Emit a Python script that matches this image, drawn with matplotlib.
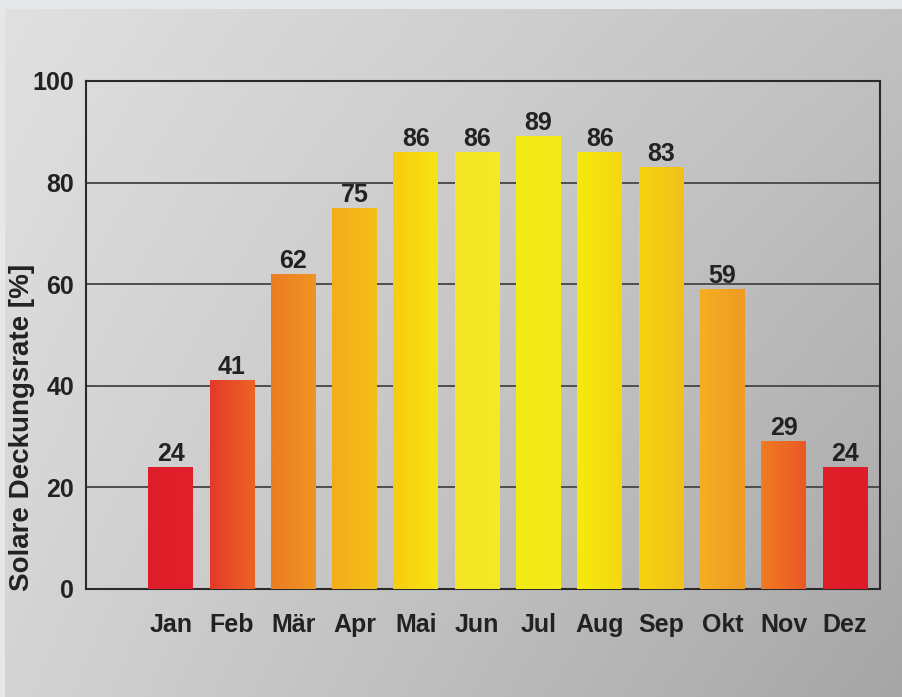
import matplotlib

matplotlib.use("Agg")
import matplotlib.pyplot as plt  # noqa: E402
import numpy as np  # noqa: E402
from matplotlib.colors import to_rgb  # noqa: E402

plt.rcParams["font.family"] = ["Liberation Sans", "DejaVu Sans"]
plt.rcParams["font.weight"] = "bold"

# ---- data ----
months = ["Jan", "Feb", "Mär", "Apr", "Mai", "Jun", "Jul", "Aug", "Sep", "Okt", "Nov", "Dez"]
coverage = [24, 41, 62, 75, 86, 86, 89, 86, 83, 59, 29, 24]
y_ticks = [0, 20, 40, 60, 80, 100]
y_label = "Solare Deckungsrate [%]"

# bar fill: (left colour, right colour) of the horizontal gradient
bar_grad = [
    ("#dd1d27", "#e0202a"),
    ("#e43a2a", "#ec6424"),
    ("#ec7c22", "#f09422"),
    ("#f4ac1c", "#f5c018"),
    ("#f7cc10", "#f6e414"),
    ("#f4e626", "#f4ea22"),
    ("#f5ec14", "#f3ea1a"),
    ("#f6ea0c", "#f4d810"),
    ("#f6d40e", "#f2c01a"),
    ("#f3b020", "#f09a24"),
    ("#f07c22", "#ea5826"),
    ("#e01e2a", "#de1c28"),
]

W, H = 903, 697
fig = plt.figure(figsize=(W / 100, H / 100), dpi=100)

# ---- grey gradient background ----
bg = fig.add_axes([0, 0, 1, 1], zorder=-10)
bg.axis("off")
u = np.linspace(0, 1, 300)[None, :]
v = np.linspace(0, 1, 240)[:, None]
tl, tr, bl, br = 0.88, 0.76, 0.83, 0.65
g = (tl * (1 - u) * (1 - v) + tr * u * (1 - v) + bl * (1 - u) * v + br * u * v)
bg.imshow(np.dstack([g, g, g]), extent=(0, W, H, 0), aspect="auto", interpolation="bilinear")
bg.add_patch(plt.Rectangle((0, 0), W, 9, color="#e6e7e9", lw=0))
bg.add_patch(plt.Rectangle((0, 0), 5, H, color="#e6e7e9", lw=0))
bg.set_xlim(0, W)
bg.set_ylim(H, 0)

# ---- main chart ----
ax = fig.add_axes([86 / W, 1 - 589 / H, 794 / W, 508 / H])
ax.set_facecolor("none")
x = np.arange(len(months))
bars = ax.bar(x, coverage, width=0.73, color="none", zorder=3)

for b, (c0, c1) in zip(bars, bar_grad):
    t = np.linspace(0, 1, 64)[None, :, None]
    img = np.array(to_rgb(c0))[None, None, :] * (1 - t) + np.array(to_rgb(c1))[None, None, :] * t
    x0, w, h = b.get_x(), b.get_width(), b.get_height()
    ax.imshow(img, extent=(x0, x0 + w, 0, h), aspect="auto", interpolation="bilinear", zorder=3)

for b, val in zip(bars, coverage):
    ax.annotate(str(val), (b.get_x() + b.get_width() / 2, b.get_height()), xytext=(0, 1),
                textcoords="offset points", ha="center", va="bottom", fontsize=18,
                fontweight="bold", color="#222222", zorder=4)

ax.set_xlim(-1.38, 11.57)
ax.set_ylim(0, 100)
ax.set_xticks(x)
ax.set_xticklabels(months)
ax.set_yticks(y_ticks)
ax.tick_params(axis="x", length=0, pad=17, labelsize=18, labelcolor="#222222")
ax.tick_params(axis="y", length=0, pad=8.5, labelsize=18, labelcolor="#222222")
for lab in ax.get_xticklabels() + ax.get_yticklabels():
    lab.set_fontweight("bold")

for yv in y_ticks[1:-1]:
    ax.axhline(yv, color="#4e4e4e", lw=1.4, zorder=1)
for s in ax.spines.values():
    s.set_color("#2a2a2a")
    s.set_linewidth(1.5)

fig.text(22 / W, 1 - 427 / H, y_label, rotation=90, ha="center", va="center",
         fontsize=20, fontweight="bold", color="#222222")

fig.savefig("out.png", dpi=100)
